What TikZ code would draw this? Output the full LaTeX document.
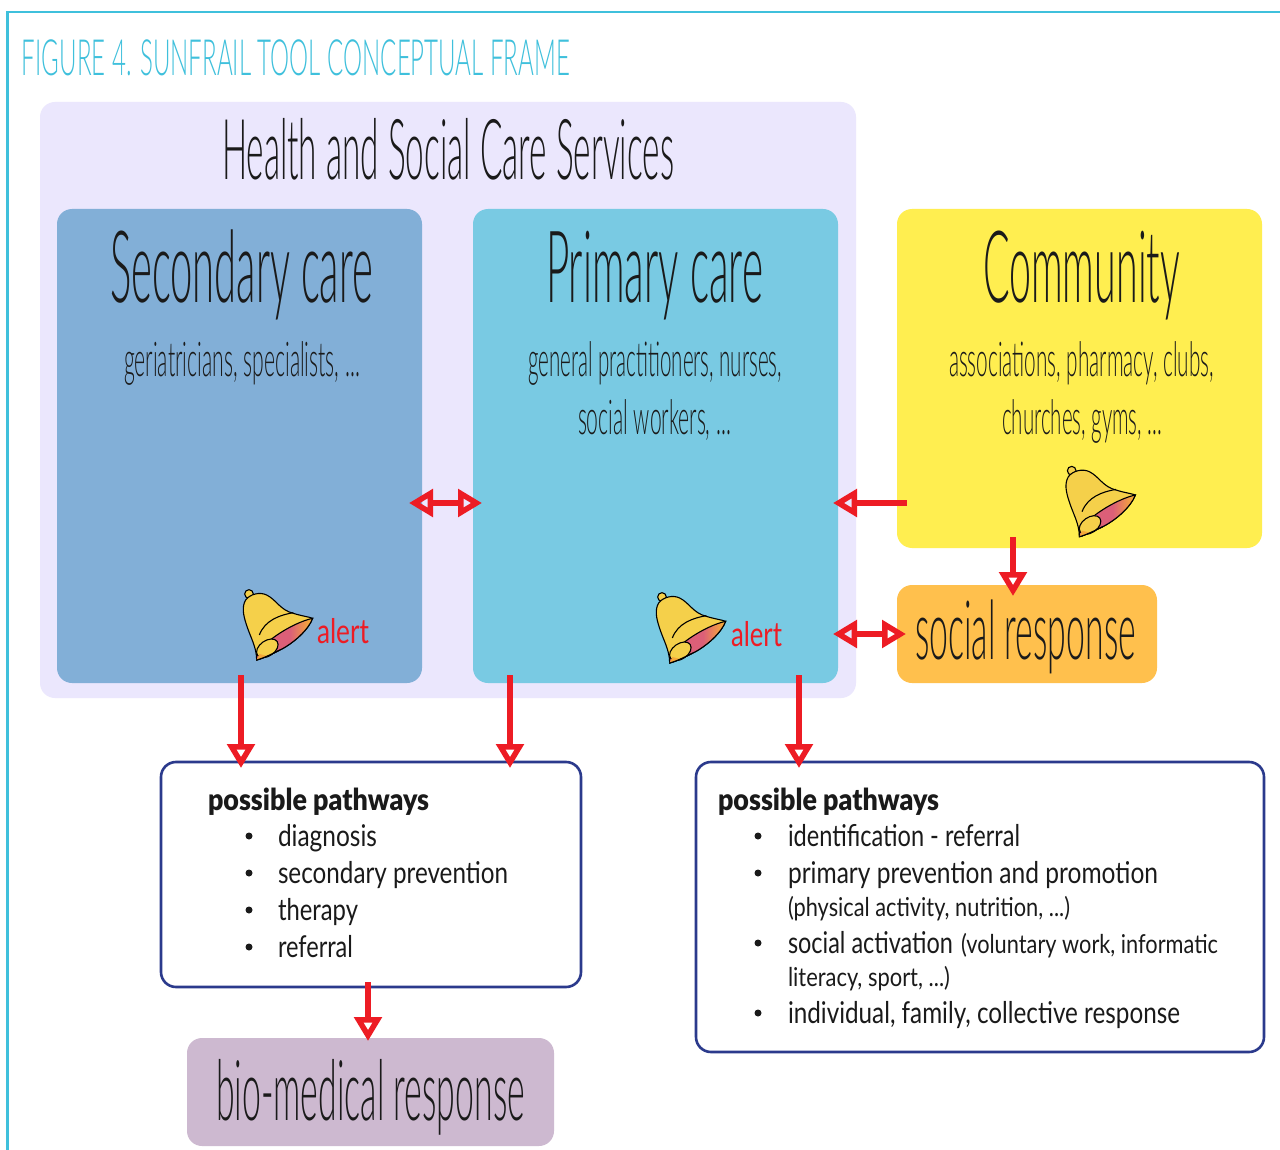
\documentclass[tikz,border=0pt]{standalone}
\usepackage{fontspec}
\usepackage{graphicx}
\usetikzlibrary{arrows.meta}
\setmainfont{Lato}
\newfontfamily\lightf{Lato Light}
\newfontfamily\blackf{Lato Black}
\definecolor{framec}{HTML}{3FC0DC}
\definecolor{lilac}{HTML}{EBE7FD}
\definecolor{secc}{HTML}{82AFD7}
\definecolor{primc}{HTML}{79CAE3}
\definecolor{commc}{HTML}{FFEE50}
\definecolor{socc}{HTML}{FFC04D}
\definecolor{bioc}{HTML}{CDB9D0}
\definecolor{navyc}{HTML}{2B3A8C}
\definecolor{arrc}{HTML}{ED1C24}
\definecolor{inkc}{HTML}{1A1A1A}
\definecolor{belly}{HTML}{F5D04A}
\definecolor{belltan}{HTML}{CFA45C}
\definecolor{bellpink}{HTML}{DC5F78}
\definecolor{bellor}{HTML}{F5A83A}
\pgfdeclarehorizontalshading{bellmouth}{100bp}{color(0bp)=(bellpink); color(55bp)=(bellpink); color(72bp)=(bellor); color(100bp)=(bellor)}
\newcommand\fitt[3]{\resizebox{#1pt}{\height}{\fontsize{#2pt}{#2pt}\selectfont #3}}
\newcommand\mybell[2]{%
\begin{scope}[shift={(#1,#2)},x=0.3333pt,y=-0.3333pt,line width=1.1pt,draw=black]
\filldraw[fill=belly] (57,42) circle[radius=13];
\shade[top color=belly,middle color=belltan,bottom color=belly,shading angle=-45,draw=black]
 (47,60) .. controls (60,42) and (90,35) .. (110,45) .. controls (140,60) and (150,90) .. (190,100)
 .. controls (215,108) and (235,110) .. (248,115) .. controls (235,150) and (190,190) .. (150,210)
 .. controls (125,222) and (100,235) .. (80,240) .. controls (80,200) and (60,170) .. (48,130)
 .. controls (40,105) and (35,80) .. (47,60) -- cycle;
\shade[shading=bellmouth,draw=black]
 (248,115) .. controls (200,125) and (120,170) .. (85,215) .. controls (80,225) and (78,235) .. (80,240)
 .. controls (100,235) and (125,222) .. (150,210) .. controls (190,190) and (235,150) .. (248,115) -- cycle;
\filldraw[fill=belly] (112,205) ellipse[x radius=36,y radius=23,rotate=35];
\fill[bellor] (80,240) -- (88,222) -- (112,228) -- cycle;
\draw (80,240) .. controls (100,235) and (125,222) .. (150,210);
\draw (88,165) .. controls (105,120) and (150,105) .. (190,98);
\end{scope}}
\tikzset{
 x=1pt,y=-1pt,
 card/.style={rounded corners=15pt,anchor=north west,inner sep=0pt,outer sep=0pt},
 pathbox/.style={card,draw=navyc,line width=2.6pt,fill=white},
 lbl/.style={anchor=base west,inner sep=0pt,outer sep=0pt,text=inkc},
 arr/.style={draw=arrc,line width=5.5pt,-{Triangle[open,length=24pt,width=27pt,line width=5.5pt]}},
 darr/.style={draw=arrc,line width=5.5pt,{Triangle[open,length=24pt,width=27pt,line width=5.5pt]}-{Triangle[open,length=24pt,width=27pt,line width=5.5pt]}},
 bul/.style={circle,fill=inkc,inner sep=0pt,minimum size=7pt},
}
\begin{document}
\begin{tikzpicture}
\useasboundingbox (0,0) rectangle (1280,1150);
\fill[white] (0,0) rectangle (1280,1150);
\draw[framec,line width=2.6pt] (1280,12) -- (7.5,12) -- (7.5,1150);
\node[lbl,text=framec] (title) at (22,75.5) {\fitt{548}{50}{\lightf FIGURE 4. SUNFRAIL TOOL CONCEPTUAL FRAME}};
% panels
\node[card,fill=lilac,minimum width=816pt,minimum height=596pt] (hsc) at (40,102) {};
\node[card,fill=secc,minimum width=365pt,minimum height=474pt] (sec) at (57,209) {};
\node[card,fill=primc,minimum width=365pt,minimum height=474pt] (prim) at (473,209) {};
\node[card,fill=commc,minimum width=365pt,minimum height=339pt] (comm) at (897,209) {};
\node[card,fill=socc,minimum width=260pt,minimum height=98pt] (soc) at (897,585) {};
\node[pathbox,minimum width=420pt,minimum height=225pt] (pa) at (161,762) {};
\node[pathbox,minimum width=568pt,minimum height=290pt] (pb) at (696,762) {};
\node[card,fill=bioc,minimum width=367pt,minimum height=108pt] (bio) at (187,1038) {};
% headings
\node[lbl] (thsc) at (222,180) {\fitt{452}{84}{\lightf Health and Social Care Services}};
\node[lbl] (tsec) at (110,303) {\fitt{263}{100}{\lightf Secondary care}};
\node[lbl] (tprim) at (546,303) {\fitt{217}{100}{\lightf Primary care}};
\node[lbl] (tcomm) at (983,303) {\fitt{197}{100}{\lightf Community}};
\node[lbl] (s1) at (124,376) {\fitt{236}{48}{\lightf geriatricians, specialists, ...}};
\node[lbl] (p1) at (528,376) {\fitt{254}{48}{\lightf general practitioners, nurses,}};
\node[lbl] (p2) at (578,434) {\fitt{153}{48}{\lightf social workers, ...}};
\node[lbl] (c1) at (949,376) {\fitt{265}{48}{\lightf associations, pharmacy, clubs,}};
\node[lbl] (c2) at (1002,434) {\fitt{160}{48}{\lightf churches, gyms, ...}};
\node[lbl] (tsoc) at (915,659) {\fitt{221}{82}{\lightf social response}};
\node[lbl] (tbio) at (216,1120) {\fitt{309}{84}{\lightf bio-medical response}};
\node[lbl,text=arrc] (al1) at (317,643) {\fitt{52}{34}{alert}};
\node[lbl,text=arrc] (al2) at (731,646) {\fitt{51}{34}{alert}};
% bells
\mybell{230}{580}
\mybell{643}{583}
\mybell{1052.7}{456.7}
% left list
\node[lbl] (ah) at (208,810) {\fitt{221}{30}{\blackf possible pathways}};
\node[bul] (ab1) at (249,836) {};
\node[bul] (ab2) at (249,873) {};
\node[bul] (ab3) at (249,910) {};
\node[bul] (ab4) at (249,947) {};
\node[lbl] (a1) at (278,846) {\fitt{99}{30}{diagnosis}};
\node[lbl] (a2) at (278,883) {\fitt{230}{30}{secondary prevention}};
\node[lbl] (a3) at (278,920) {\fitt{80}{30}{therapy}};
\node[lbl] (a4) at (278,957) {\fitt{75}{30}{referral}};
% right list
\node[lbl] (bh) at (718,810) {\fitt{221}{30}{\blackf possible pathways}};
\node[bul] (bb1) at (758,836) {};
\node[bul] (bb2) at (758,873) {};
\node[bul] (bb3) at (758,943) {};
\node[bul] (bb4) at (758,1013) {};
\node[lbl] (b1) at (788,846) {\fitt{232}{30}{identification - referral}};
\node[lbl] (b2) at (788,883) {\fitt{370}{30}{primary prevention and promotion}};
\node[lbl] (b2s) at (788,916) {\fitt{282}{26}{(physical activity, nutrition, ...)}};
\node[lbl] (b3) at (788,953) {\fitt{165}{30}{social activation}};
\node[lbl] (b3s) at (961,953) {\fitt{257}{26}{(voluntary work, informatic}};
\node[lbl] (b3t) at (788,986) {\fitt{162}{26}{literacy, sport, ...)}};
\node[lbl] (b4) at (788,1023) {\fitt{392}{30}{individual, family, collective response}};
% connectors
\coordinate (ta) at (241,768);
\coordinate (tb) at (510,768);
\coordinate (tc) at (799,768);
\coordinate (td) at (368,1041);
\coordinate (te) at (1013,596);
\coordinate (tf) at (833,503);
\coordinate (gl) at (409,503);
\coordinate (gr) at (482,503);
\coordinate (hl) at (833,634);
\coordinate (hr) at (906,634);
\draw[arr] ([yshift=8pt]sec.south -| ta) -- (ta);
\draw[arr] ([yshift=8pt]prim.south -| tb) -- (tb);
\draw[arr] ([yshift=8pt]prim.south -| tc) -- (tc);
\draw[arr] ([yshift=5pt]pa.south -| td) -- (td);
\draw[arr] ([yshift=11pt]comm.south -| te) -- (te);
\draw[arr] ([xshift=10pt]comm.west |- tf) -- (tf);
\draw[darr] (gl) -- (gr);
\draw[darr] (hl) -- (hr);
\end{tikzpicture}
\end{document}
